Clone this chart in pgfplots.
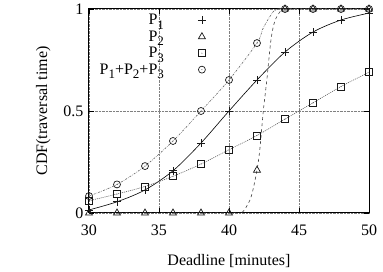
\documentclass[border=0pt]{standalone}
\usepackage{fontspec}
\setmainfont{Liberation Serif}
\usepackage{pgfplots}
\pgfplotsset{compat=1.18}
\pgfdeclareplotmark{sqdot}{%
  \pgfpathrectangle{\pgfpoint{-\pgfplotmarksize}{-\pgfplotmarksize}}{\pgfpoint{2\pgfplotmarksize}{2\pgfplotmarksize}}%
  \pgfusepathqstroke
  \pgfpathcircle{\pgfpointorigin}{0.45pt}\pgfusepathqfill}
\pgfdeclareplotmark{cdot}{%
  \pgfpathcircle{\pgfpointorigin}{\pgfplotmarksize}\pgfusepathqstroke
  \pgfpathcircle{\pgfpointorigin}{0.45pt}\pgfusepathqfill}
\newcommand{\bigf}{\fontsize{16}{19}\selectfont}
\newcommand{\Ps}[1]{P\raisebox{-0.6ex}{\fontsize{13}{13}\selectfont #1}}
\begin{document}
\begin{tikzpicture}[font=\bigf]
\path[use as bounding box] (-89pt,-59pt) rectangle (294pt,213pt);
\begin{axis}[
  scale only axis,
  width=280pt, height=204pt,
  xmin=30, xmax=50, ymin=0, ymax=1,
  xtick={30,35,40,45,50},
  ytick={0,0.5,1},
  yticklabels={0,0.5,1},
  /pgf/number format/assume math mode=true,
  every tick label/.append style={font=\bigf},
  every axis label/.append style={font=\bigf},
  xticklabel style={yshift=-8pt},
  yticklabel style={xshift=-2pt},
  xlabel={Deadline [minutes]},
  ylabel={CDF(traversal time)},
  xlabel style={yshift=-12pt},
  ylabel style={yshift=6pt},
  tick align=inside,
  major tick length=5pt,
  axis line style={line width=1pt},
  tick style={line width=0.6pt,black},
  grid=major,
  major grid style={densely dotted, gray, line width=0.5pt},
  legend cell align=right,
  legend plot pos=right,
  legend style={draw=none, fill=none, at={(rel axis cs:0.429,0.995)}, anchor=north east,
    font=\bigf, row sep=0.5pt,
    /tikz/every odd column/.append style={column sep=32pt}},
]
% lines
\addplot[black, line width=0.6pt, smooth, forget plot] coordinates {
(30,0.015)(32,0.055)(34,0.113)(36,0.207)(38,0.343)(40,0.5)(42,0.652)(44,0.789)(46,0.887)(48,0.946)(50,0.98)};
\addplot[black!75, dashed, line width=0.6pt, smooth, forget plot] coordinates {
(30,0)(40,0)(40.8,0)(41.1,0.015)(41.5,0.064)(41.7,0.11)(42,0.21)(42.2,0.31)(42.45,0.5)(42.7,0.65)(43.0,0.85)(43.3,0.946)(43.8,1)(44,1)(50,1)};
\addplot[black!65, dash pattern=on 1pt off 1pt, line width=0.6pt, smooth, forget plot] coordinates {
(30,0.06)(32,0.093)(34,0.13)(36,0.18)(38,0.24)(40,0.31)(42,0.38)(44,0.46)(46,0.54)(48,0.62)(50,0.69)};
\addplot[black!60, dash pattern=on 2pt off 1.2pt on 0.6pt off 1.2pt, line width=0.6pt, smooth, forget plot] coordinates {
(30,0.083)(32,0.14)(34,0.23)(36,0.353)(38,0.5)(40,0.652)(42,0.833)(42.4,0.90)(42.8,0.95)(43.2,0.99)(43.5,1)(44,1)(50,1)};
% marks
\addplot[only marks, mark=+, mark size=4pt, black!90, line width=0.75pt] coordinates {
(30,0.015)(32,0.055)(34,0.113)(36,0.207)(38,0.343)(40,0.5)(42,0.652)(44,0.789)(46,0.887)(48,0.946)(50,0.98)};
\addlegendentry{\Ps{1}}
\addplot[only marks, mark=triangle, mark size=4pt, black!90, line width=0.7pt] coordinates {
(30,0)(32,0)(34,0)(36,0)(38,0)(40,0)(42,0.21)(44,1)(46,1)(48,1)(50,1)};
\addlegendentry{\Ps{2}}
\addplot[only marks, mark=sqdot, mark size=3.5pt, black!90, line width=0.7pt] coordinates {
(30,0.06)(32,0.093)(34,0.13)(36,0.18)(38,0.24)(40,0.31)(42,0.38)(44,0.46)(46,0.54)(48,0.62)(50,0.69)};
\addlegendentry{\Ps{3}}
\addplot[only marks, mark=cdot, mark size=3.5pt, black!90, line width=0.7pt] coordinates {
(30,0.083)(32,0.14)(34,0.23)(36,0.353)(38,0.5)(40,0.652)(42,0.833)(44,1)(46,1)(48,1)(50,1)};
\addlegendentry{\Ps{1}+\Ps{2}+\Ps{3}}
\end{axis}
\end{tikzpicture}
\end{document}
